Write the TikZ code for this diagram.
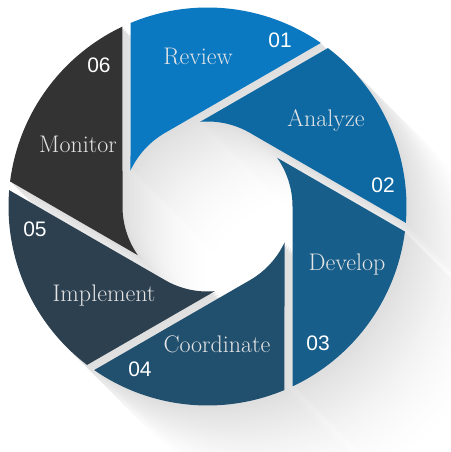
\documentclass[tikz,border=0pt]{standalone}
\usepackage{fontspec}
\newfontfamily\numfont{Liberation Sans}
\definecolor{cA}{HTML}{0A79C2}
\definecolor{cB}{HTML}{0E69A3}
\definecolor{cC}{HTML}{185E8B}
\definecolor{cD}{HTML}{21506F}
\definecolor{cE}{HTML}{2C4050}
\definecolor{cF}{HTML}{333333}
\definecolor{lbl}{HTML}{E4E4E4}
\tikzset{
  lab/.style={anchor=base, text=lbl, inner sep=0pt, font=\fontsize{24}{24}\selectfont},
  num/.style={anchor=base, text=white, inner sep=0pt, font=\numfont\fontsize{21}{21}\selectfont},
}
\begin{document}
\begin{tikzpicture}[x=1pt,y=1pt]
\useasboundingbox (0,0) rectangle (450,452);
\fill[white] (0,0) rectangle (450,452);
\begin{scope}[shift={(207.5,245.5)}]
  % long shadow: copies shifted down-right, lighter farther away
  \foreach \i in {45,44,...,1} {
    \pgfmathsetmacro\shd{13*(1-\i/45)^1.7}
    \begin{scope}[shift={(2*\i,-2*\i)}]
      \fill[black!\shd]
        \foreach \k in {0,...,5} {
          ({112.76-60*\k}:199pt) arc[start angle={112.76-60*\k}, end angle={55.29-60*\k}, radius=199pt]
          -- ({120-60*\k}:85pt) arc[start angle={120-60*\k}, end angle={154.95-60*\k}, radius=85pt] -- cycle
        };
    \end{scope}
  }
  % blades
  \foreach \k/\c in {0/cA,1/cB,2/cC,3/cD,4/cE,5/cF} {
    \fill[\c] ({112.76-60*\k}:199pt) arc[start angle={112.76-60*\k}, end angle={55.29-60*\k}, radius=199pt]
      -- ({120-60*\k}:85pt) arc[start angle={120-60*\k}, end angle={154.95-60*\k}, radius=85pt] -- cycle;
  }
\end{scope}
\node[lab] (review) at (198,387) {Review};
\node[num] (n01) at (280,404) {01};
\node[lab] (analyze) at (326,325) {Analyze};
\node[num] (n02) at (383,259) {02};
\node[lab] (develop) at (347,181) {Develop};
\node[num] (n03) at (318,101) {03};
\node[lab] (coordinate) at (217,99) {Coordinate};
\node[num] (n04) at (140,75) {04};
\node[lab] (implement) at (104,150) {Implement};
\node[num] (n05) at (35,215) {05};
\node[lab] (monitor) at (78,299) {Monitor};
\node[num] (n06) at (99,379) {06};
\end{tikzpicture}
\end{document}
